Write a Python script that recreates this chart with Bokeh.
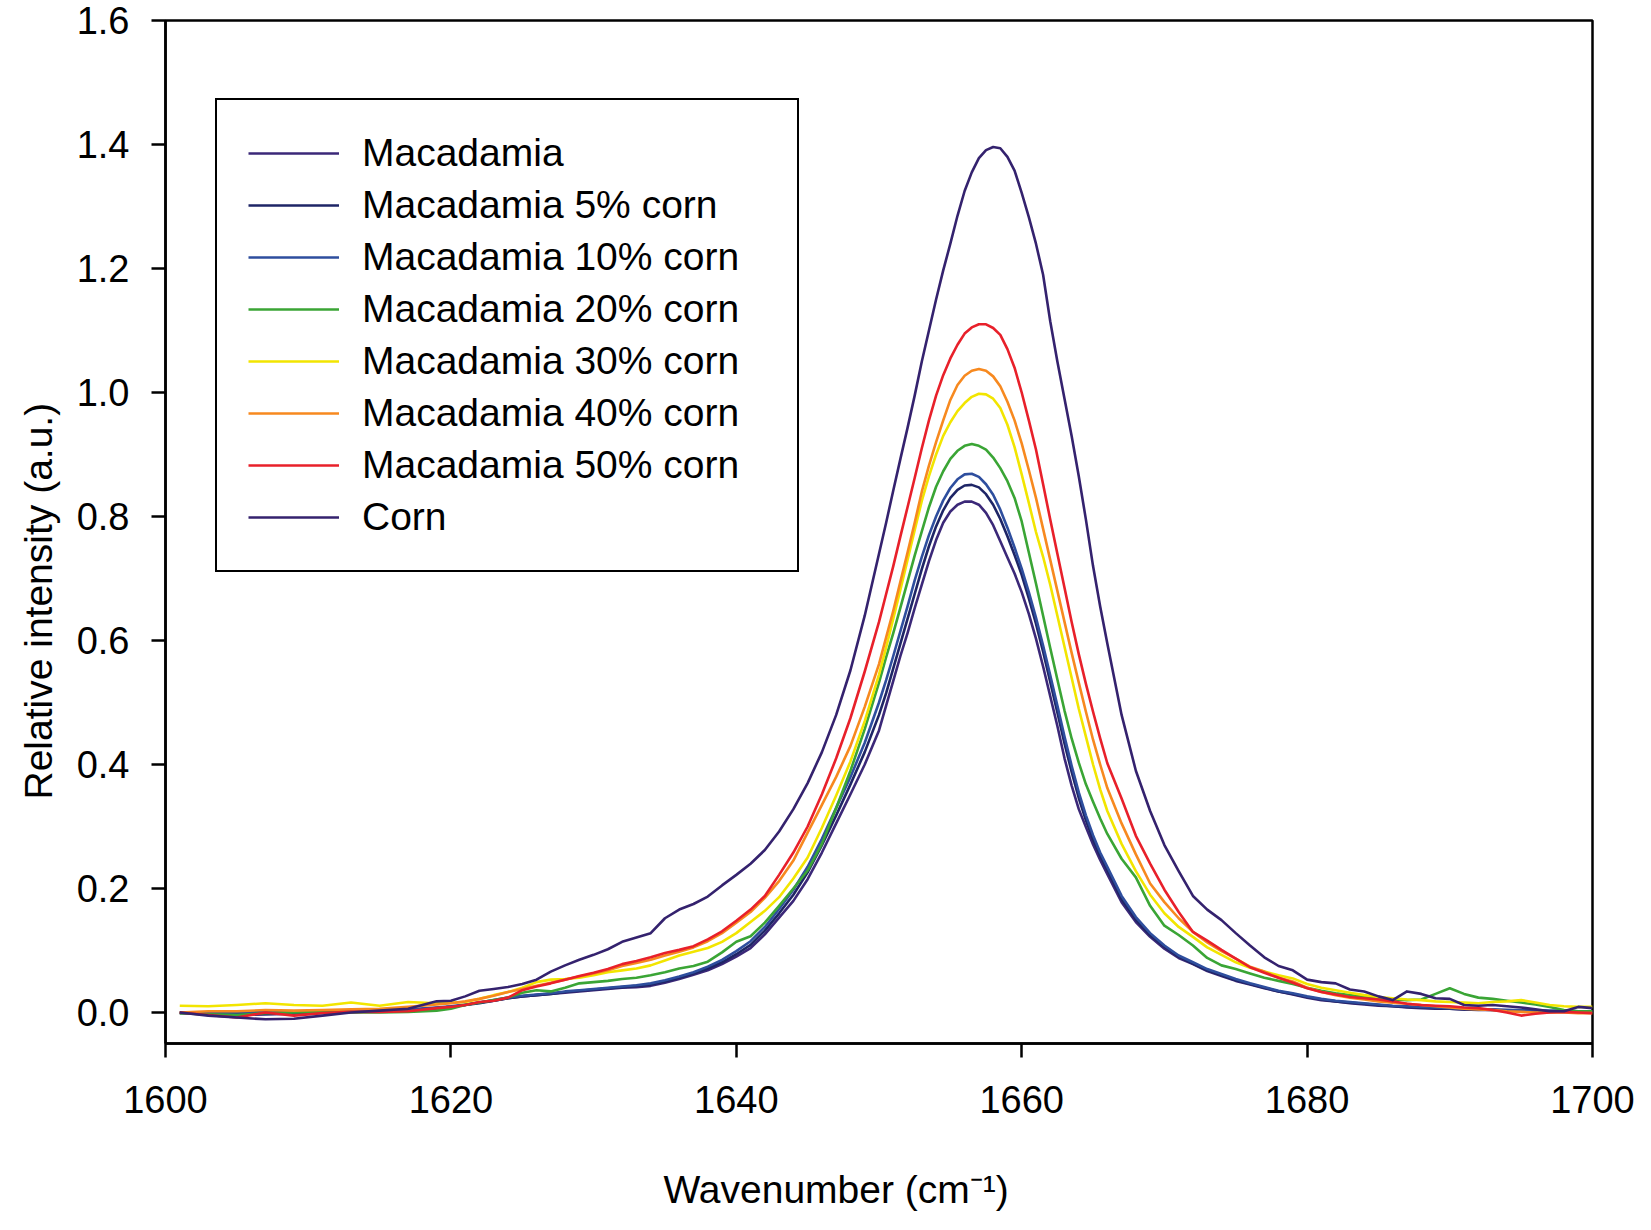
from bokeh.plotting import figure
from bokeh.models import (Range1d, Legend, LegendItem, Title, FixedTicker, NumeralTickFormatter,
                          LinearAxis)
from bokeh.embed import file_html
from bokeh.resources import INLINE

# ---- data ----
wavenumber = ([1601, 1603, 1605, 1607, 1609, 1611, 1613, 1615, 1617, 1619]
              + list(range(1620, 1651))
              + [1650.5, 1651, 1651.5, 1652, 1652.5, 1653, 1653.5, 1654, 1654.5, 1655, 1655.5,
                 1656, 1656.5, 1657, 1657.5, 1658, 1658.5, 1659, 1659.5, 1660, 1660.5, 1661,
                 1661.5, 1662, 1662.5, 1663, 1663.5, 1664, 1664.5, 1665, 1665.5, 1666]
              + list(range(1667, 1701)))

macadamia = ([0.000, -0.003, -0.004, -0.003, -0.002, 0.000, 0.002, 0.002, 0.004, 0.007]
             + [0.009, 0.012, 0.016, 0.019, 0.023, 0.026, 0.028, 0.030, 0.032, 0.034, 0.036, 0.038,
                0.040, 0.041, 0.043, 0.048, 0.054, 0.061, 0.068, 0.078, 0.090, 0.104, 0.126, 0.153,
                0.180, 0.215, 0.258, 0.305, 0.352, 0.400, 0.455]
             + [0.495, 0.535, 0.575, 0.612, 0.652, 0.690, 0.728, 0.762, 0.790, 0.808, 0.819, 0.824,
                0.824, 0.819, 0.806, 0.786, 0.760, 0.734, 0.708, 0.678, 0.643, 0.603, 0.558, 0.510,
                0.462, 0.410, 0.366, 0.328, 0.299, 0.271, 0.246, 0.223]
             + [0.178, 0.146, 0.122, 0.103, 0.088, 0.078, 0.067, 0.059, 0.051, 0.045, 0.039, 0.034,
                0.029, 0.024, 0.020, 0.018, 0.015, 0.013, 0.011, 0.010, 0.008, 0.007, 0.006, 0.006,
                0.005, 0.004, 0.004, 0.003, 0.003, 0.002, 0.002, 0.002, 0.002, 0.002])

corn5 = ([-0.001, -0.002, -0.002, -0.001, 0.000, 0.001, 0.002, 0.003, 0.004, 0.007]
         + [0.009, 0.012, 0.015, 0.019, 0.023, 0.026, 0.028, 0.030, 0.033, 0.035, 0.037, 0.039,
            0.041, 0.043, 0.045, 0.050, 0.056, 0.063, 0.071, 0.081, 0.094, 0.109, 0.132, 0.160,
            0.190, 0.226, 0.270, 0.318, 0.368, 0.420, 0.480]
         + [0.515, 0.555, 0.595, 0.635, 0.675, 0.715, 0.752, 0.784, 0.810, 0.830, 0.843, 0.850,
            0.851, 0.847, 0.836, 0.819, 0.796, 0.768, 0.738, 0.706, 0.668, 0.627, 0.582, 0.533,
            0.484, 0.434, 0.388, 0.346, 0.310, 0.279, 0.253, 0.230]
         + [0.183, 0.150, 0.125, 0.106, 0.090, 0.079, 0.068, 0.060, 0.052, 0.046, 0.040, 0.034,
            0.030, 0.025, 0.021, 0.018, 0.016, 0.014, 0.012, 0.010, 0.009, 0.008, 0.007, 0.006,
            0.005, 0.005, 0.004, 0.004, 0.003, 0.003, 0.002, 0.002, 0.002, 0.002])

corn10 = ([0.000, -0.001, 0.000, 0.001, 0.002, 0.002, 0.003, 0.003, 0.005, 0.008]
          + [0.010, 0.013, 0.016, 0.020, 0.024, 0.027, 0.029, 0.031, 0.034, 0.036, 0.038, 0.040,
             0.042, 0.044, 0.047, 0.052, 0.058, 0.065, 0.074, 0.085, 0.099, 0.115, 0.138, 0.167,
             0.198, 0.235, 0.280, 0.330, 0.380, 0.435, 0.500]
          + [0.536, 0.575, 0.615, 0.655, 0.697, 0.735, 0.770, 0.800, 0.826, 0.846, 0.860, 0.868,
             0.869, 0.864, 0.852, 0.835, 0.811, 0.782, 0.750, 0.716, 0.678, 0.637, 0.592, 0.544,
             0.495, 0.445, 0.398, 0.355, 0.318, 0.286, 0.258, 0.235]
          + [0.188, 0.154, 0.128, 0.108, 0.092, 0.081, 0.070, 0.062, 0.054, 0.047, 0.041, 0.035,
             0.031, 0.026, 0.022, 0.019, 0.017, 0.015, 0.013, 0.011, 0.010, 0.009, 0.008, 0.007,
             0.006, 0.005, 0.005, 0.004, 0.004, 0.003, 0.003, 0.003, 0.002, 0.002])

corn20 = ([-0.001, -0.003, -0.004, -0.001, 0.000, 0.001, 0.000, 0.000, 0.001, 0.003]
          + [0.006, 0.012, 0.016, 0.020, 0.024, 0.032, 0.036, 0.034, 0.040, 0.047, 0.049, 0.051,
             0.054, 0.056, 0.060, 0.065, 0.071, 0.075, 0.082, 0.097, 0.114, 0.123, 0.145, 0.172,
             0.200, 0.229, 0.272, 0.330, 0.390, 0.457, 0.532]
          + [0.573, 0.612, 0.653, 0.695, 0.737, 0.776, 0.815, 0.848, 0.873, 0.893, 0.906, 0.914,
             0.917, 0.914, 0.908, 0.895, 0.878, 0.857, 0.830, 0.792, 0.742, 0.692, 0.640, 0.588,
             0.537, 0.487, 0.442, 0.403, 0.368, 0.340, 0.313, 0.288]
          + [0.248, 0.218, 0.172, 0.140, 0.125, 0.108, 0.088, 0.076, 0.070, 0.063, 0.056, 0.051,
             0.046, 0.040, 0.035, 0.031, 0.028, 0.025, 0.023, 0.021, 0.020, 0.021, 0.030, 0.039,
             0.030, 0.024, 0.022, 0.019, 0.016, 0.013, 0.009, 0.004, 0.002, 0.002])

corn30 = ([0.011, 0.010, 0.012, 0.015, 0.012, 0.011, 0.016, 0.011, 0.017, 0.015]
          + [0.016, 0.017, 0.022, 0.028, 0.033, 0.040, 0.049, 0.053, 0.054, 0.056, 0.060, 0.065,
             0.068, 0.071, 0.076, 0.084, 0.092, 0.098, 0.104, 0.114, 0.128, 0.146, 0.164, 0.186,
             0.216, 0.250, 0.298, 0.350, 0.405, 0.470, 0.545]
          + [0.589, 0.635, 0.682, 0.730, 0.778, 0.825, 0.865, 0.900, 0.930, 0.952, 0.970, 0.983,
             0.993, 0.998, 0.997, 0.990, 0.975, 0.948, 0.912, 0.868, 0.822, 0.775, 0.735, 0.690,
             0.640, 0.590, 0.540, 0.490, 0.445, 0.400, 0.360, 0.325]
          + [0.272, 0.228, 0.190, 0.160, 0.138, 0.122, 0.105, 0.093, 0.081, 0.072, 0.066, 0.060,
             0.055, 0.046, 0.040, 0.036, 0.032, 0.028, 0.025, 0.023, 0.021, 0.020, 0.018, 0.017,
             0.016, 0.015, 0.017, 0.018, 0.020, 0.016, 0.012, 0.010, 0.009, 0.009])

corn40 = ([0.000, 0.002, 0.002, 0.004, 0.003, 0.004, 0.005, 0.006, 0.009, 0.013]
          + [0.015, 0.018, 0.022, 0.027, 0.033, 0.038, 0.043, 0.048, 0.053, 0.058, 0.063, 0.068,
             0.075, 0.080, 0.085, 0.092, 0.098, 0.105, 0.115, 0.128, 0.145, 0.162, 0.185, 0.212,
             0.245, 0.290, 0.335, 0.380, 0.430, 0.493, 0.562]
          + [0.605, 0.648, 0.695, 0.742, 0.790, 0.840, 0.882, 0.920, 0.955, 0.988, 1.012, 1.027,
             1.035, 1.038, 1.035, 1.026, 1.010, 0.985, 0.955, 0.918, 0.875, 0.830, 0.780, 0.730,
             0.680, 0.630, 0.580, 0.532, 0.485, 0.440, 0.400, 0.362]
          + [0.305, 0.255, 0.208, 0.178, 0.152, 0.130, 0.113, 0.099, 0.087, 0.074, 0.066, 0.056,
             0.050, 0.040, 0.033, 0.028, 0.024, 0.021, 0.018, 0.016, 0.014, 0.012, 0.010, 0.008,
             0.006, 0.005, 0.004, 0.002, 0.001, 0.000, 0.000, 0.000, -0.001, -0.001])

corn50 = ([0.000, -0.004, -0.008, 0.000, -0.005, -0.001, 0.001, 0.001, 0.002, 0.007]
          + [0.009, 0.012, 0.017, 0.019, 0.024, 0.036, 0.042, 0.047, 0.053, 0.059, 0.064, 0.070,
             0.078, 0.083, 0.089, 0.096, 0.101, 0.107, 0.118, 0.131, 0.148, 0.166, 0.188, 0.222,
             0.258, 0.300, 0.352, 0.410, 0.475, 0.550, 0.630]
          + [0.675, 0.720, 0.768, 0.815, 0.862, 0.910, 0.955, 0.995, 1.028, 1.055, 1.077, 1.095,
             1.105, 1.110, 1.110, 1.104, 1.093, 1.070, 1.040, 1.000, 0.955, 0.908, 0.852, 0.795,
             0.740, 0.685, 0.630, 0.578, 0.530, 0.485, 0.442, 0.402]
          + [0.345, 0.285, 0.240, 0.198, 0.162, 0.130, 0.116, 0.101, 0.087, 0.073, 0.064, 0.056,
             0.048, 0.039, 0.033, 0.029, 0.025, 0.023, 0.021, 0.018, 0.014, 0.012, 0.011, 0.010,
             0.008, 0.007, 0.004, 0.000, -0.005, -0.002, 0.000, 0.001, 0.000, -0.001])

corn = ([0.000, -0.005, -0.008, -0.011, -0.010, -0.005, 0.000, 0.003, 0.006, 0.018]
        + [0.019, 0.026, 0.035, 0.038, 0.041, 0.046, 0.053, 0.066, 0.076, 0.085, 0.093, 0.102,
           0.114, 0.121, 0.128, 0.152, 0.166, 0.175, 0.187, 0.205, 0.222, 0.240, 0.262, 0.292,
           0.328, 0.370, 0.420, 0.480, 0.552, 0.640, 0.740]
        + [0.790, 0.842, 0.893, 0.943, 0.995, 1.050, 1.100, 1.150, 1.197, 1.240, 1.285, 1.325,
           1.355, 1.378, 1.391, 1.396, 1.394, 1.380, 1.358, 1.322, 1.283, 1.240, 1.190, 1.115,
           1.050, 0.990, 0.930, 0.865, 0.795, 0.720, 0.655, 0.595]
        + [0.480, 0.390, 0.325, 0.270, 0.228, 0.188, 0.166, 0.149, 0.128, 0.108, 0.089, 0.075,
           0.068, 0.053, 0.049, 0.047, 0.037, 0.034, 0.026, 0.020, 0.034, 0.030, 0.023, 0.022,
           0.012, 0.011, 0.012, 0.010, 0.008, 0.005, 0.002, 0.002, 0.009, 0.007])

series_names = ["Macadamia", "Macadamia 5% corn", "Macadamia 10% corn", "Macadamia 20% corn",
                "Macadamia 30% corn", "Macadamia 40% corn", "Macadamia 50% corn", "Corn"]
series_values = [macadamia, corn5, corn10, corn20, corn30, corn40, corn50, corn]
series_colors = ["#3b2878", "#1e2566", "#2e4e9e", "#3aa535", "#f2e500", "#f7891f", "#e8202a", "#34226e"]

x_ticks = [1600, 1620, 1640, 1660, 1680, 1700]
y_ticks = [0.0, 0.2, 0.4, 0.6, 0.8, 1.0, 1.2, 1.4, 1.6]

for s in series_values:
    assert len(s) == len(wavenumber), (len(s), len(wavenumber))

FONT = "Liberation Sans"

p = figure(width=1635, height=1214, output_backend="svg", toolbar_location=None,
           x_range=Range1d(1600, 1700), y_range=Range1d(-0.05, 1.6),
           min_border_left=164, min_border_right=43, min_border_top=20, min_border_bottom=171)
p.xgrid.visible = False
p.ygrid.visible = False
p.outline_line_color = "black"
p.outline_line_width = 2.5
p.outline_line_alpha = 1.0
p.background_fill_color = "white"
p.border_fill_color = "white"

for ax in (p.xaxis[0], p.yaxis[0]):
    ax.axis_line_width = 2.5
    ax.axis_line_color = "black"
    ax.major_tick_line_width = 2.5
    ax.major_tick_line_color = "black"
    ax.major_tick_out = 14
    ax.major_tick_in = 0
    ax.minor_tick_line_color = None
    ax.major_label_text_font = FONT
    ax.major_label_text_font_size = "38px"
    ax.major_label_text_color = "black"

p.xaxis.major_label_standoff = 28
p.yaxis.major_label_standoff = 22
p.xaxis.ticker = FixedTicker(ticks=x_ticks)
p.yaxis.ticker = FixedTicker(ticks=y_ticks)
p.yaxis.formatter = NumeralTickFormatter(format="0.0")

# blank spacer axis (white tick at the right end, empty label) that pushes the x title down
spacer = LinearAxis(ticker=FixedTicker(ticks=[1700]), axis_line_color=None,
                    major_tick_line_color="white", major_tick_line_width=1,
                    minor_tick_line_color=None,
                    major_tick_out=50, major_tick_in=0, minor_tick_out=0, minor_tick_in=0,
                    major_label_overrides={1700: ""}, major_label_text_font_size="1px",
                    major_label_standoff=0)
p.add_layout(spacer, "below")

renderers = []
for vals, col in zip(series_values, series_colors):
    r = p.line(wavenumber, vals, line_color=col, line_width=2.6, line_join="round")
    renderers.append(r)

items = [LegendItem(label=n, renderers=[r]) for n, r in zip(series_names, renderers)]
legend = Legend(items=items, location=(50, 471), orientation="vertical",
                label_text_font=FONT, label_text_font_size="39px", label_text_color="black",
                glyph_width=91, glyph_height=44, label_height=44, label_width=404,
                label_standoff=23, spacing=8, padding=31, margin=0,
                border_line_color="black", border_line_width=2.5, border_line_alpha=1.0,
                background_fill_color="white", background_fill_alpha=1.0)
p.add_layout(legend)

xtitle = Title(text="Wavenumber (cm\u207b\u00b9)", align="left", offset=498, standoff=0,
               text_font=FONT, text_font_size="39px", text_font_style="normal", text_color="black")
ytitle = Title(text="Relative intensity (a.u.)", align="left", offset=244, standoff=28,
               text_font=FONT, text_font_size="39px", text_font_style="normal", text_color="black")
p.add_layout(xtitle, "below")
p.add_layout(ytitle, "left")

open("out.html", "w").write(file_html(p, INLINE))
